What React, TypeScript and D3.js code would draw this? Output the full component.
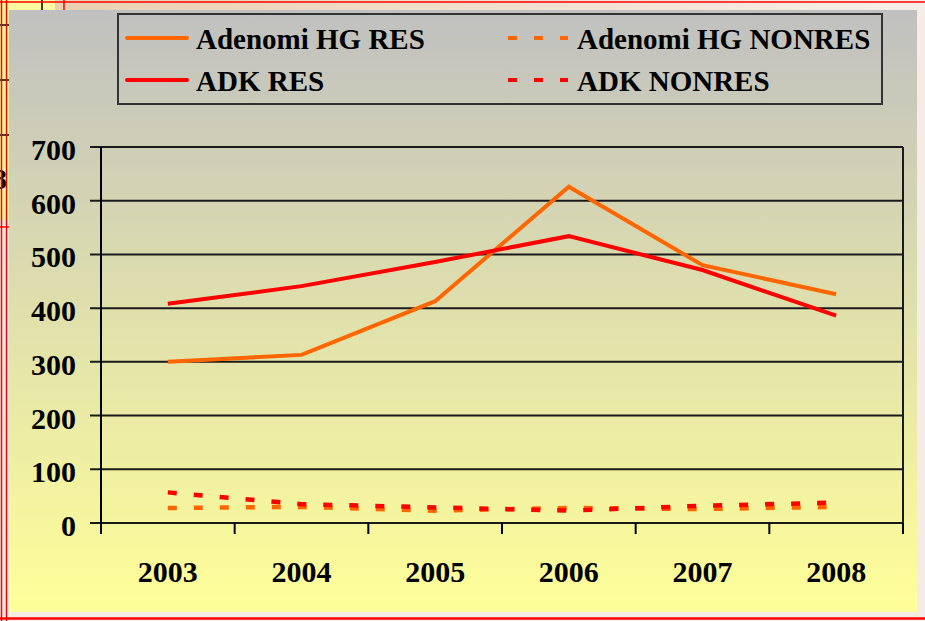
import React from "react";
import * as d3 from "d3";

const years = ["2003", "2004", "2005", "2006", "2007", "2008"];
const adenomiRes = [300, 313, 413, 626, 480, 426];
const adkRes = [408, 441, 486, 534, 471, 386];
const adenomiNonres = [28, 30, 23, 28, 26, 30];
const adkNonres = [57, 35, 29, 23, 32, 38];
const yTicks = [0, 100, 200, 300, 400, 500, 600, 700];

const series = [
  { name: "Adenomi HG RES", values: adenomiRes, color: "#ff6600", dashed: false },
  { name: "ADK RES", values: adkRes, color: "#ff0000", dashed: false },
  { name: "Adenomi HG NONRES", values: adenomiNonres, color: "#ff6600", dashed: true },
  { name: "ADK NONRES", values: adkNonres, color: "#ff0000", dashed: true },
];

const W = 925;
const H = 621;
const font = "'Liberation Serif', 'Times New Roman', serif";

export default function App() {
  const x = d3.scaleBand<string>().domain(years).range([101, 903]).padding(0);
  const y = d3.scaleLinear().domain([0, 700]).range([523, 147]);
  const line = d3
    .line<number>()
    .x((_, i) => (x(years[i]) as number) + x.bandwidth() / 2)
    .y((d) => y(d));

  const boundaries = [...years.map((yr) => x(yr) as number), 903];

  const legendItems = [
    { s: series[0], lx: 127, ly: 38 },
    { s: series[2], lx: 508, ly: 38 },
    { s: series[1], lx: 127, ly: 80 },
    { s: series[3], lx: 508, ly: 80 },
  ];

  return (
    <svg
      width={W}
      height={H}
      style={{ position: "absolute", left: 0, top: 0 }}
      xmlns="http://www.w3.org/2000/svg"
    >
      <defs>
        <linearGradient id="panel" x1="0" y1="0" x2="0" y2="1">
          <stop offset="0%" stopColor="#c0c0c0" />
          <stop offset="100%" stopColor="#ffff99" />
        </linearGradient>
        <linearGradient id="topband" x1="0" y1="0" x2="1" y2="0">
          <stop offset="0%" stopColor="#e8cfae" />
          <stop offset="100%" stopColor="#f6efe9" />
        </linearGradient>
      </defs>
      {/* slide background */}
      <rect x={0} y={0} width={W} height={H} fill="#f4ece5" />
      <rect x={0} y={0} width={W} height={10} fill="url(#topband)" />
      <rect x={0} y={0} width={55} height={220} fill="#fbf9a0" />
      {[25, 80, 135].map((yy) => (
        <line key={yy} x1={0} x2={9} y1={yy} y2={yy} stroke="#000" strokeWidth={1.5} />
      ))}
      <line x1={42} x2={42} y1={0} y2={10} stroke="#000" strokeWidth={1.5} />
      <text x={7} y={189} textAnchor="end" fontFamily={font} fontWeight="bold" fontSize={30} fill="#000">
        8
      </text>
      <line x1={0} x2={W} y1={2} y2={2} stroke="#ff0000" strokeWidth={1.5} />
      <line x1={64} x2={64} y1={0} y2={10} stroke="#ff0000" strokeWidth={1.5} />
      <line x1={1.5} x2={1.5} y1={0} y2={H} stroke="#ff0000" strokeWidth={1.5} />
      <line x1={6.5} x2={6.5} y1={0} y2={H} stroke="#ff0000" strokeWidth={1.5} />
      <line x1={0} x2={9} y1={227} y2={227} stroke="#ff0000" strokeWidth={1.5} />
      <line x1={0} x2={W} y1={618.5} y2={618.5} stroke="#ff0000" strokeWidth={2.5} />

      {/* chart panel */}
      <rect x={9} y={10} width={908} height={602} fill="url(#panel)" />

      {/* legend */}
      <rect x={118} y={14} width={764} height={90} fill="none" stroke="#333" strokeWidth={2} />
      {legendItems.map(({ s, lx, ly }) => (
        <g key={s.name}>
          <line
            x1={lx}
            x2={lx + 60}
            y1={ly}
            y2={ly}
            stroke={s.color}
            strokeWidth={4}
            strokeDasharray={s.dashed ? "9 17" : undefined}
            strokeLinecap={s.dashed ? "butt" : "round"}
          />
          <text
            x={s.dashed ? 577 : 196}
            y={ly + 11}
            fontFamily={font}
            fontWeight="bold"
            fontSize={29}
            fill="#000"
          >
            {s.name}
          </text>
        </g>
      ))}

      {/* gridlines & y axis labels */}
      {yTicks.map((t) => (
        <g key={t}>
          <line x1={90} x2={903} y1={y(t)} y2={y(t)} stroke="#1a1a1a" strokeWidth={2} />
          <text
            x={76}
            y={y(t) + 13}
            textAnchor="end"
            fontFamily={font}
            fontWeight="bold"
            fontSize={30}
            fill="#000"
          >
            {t}
          </text>
        </g>
      ))}
      <line x1={101} x2={101} y1={147} y2={523} stroke="#000" strokeWidth={2} />
      <line x1={903} x2={903} y1={147} y2={523} stroke="#1a1a1a" strokeWidth={2} />
      {boundaries.map((bx, i) => (
        <line key={i} x1={bx} x2={bx} y1={523} y2={534} stroke="#000" strokeWidth={2} />
      ))}
      {years.map((yr) => (
        <text
          key={yr}
          x={(x(yr) as number) + x.bandwidth() / 2}
          y={582}
          textAnchor="middle"
          fontFamily={font}
          fontWeight="bold"
          fontSize={30}
          fill="#000"
        >
          {yr}
        </text>
      ))}

      {/* series */}
      {[series[2], series[3], series[0], series[1]].map((s) => (
        <path
          key={s.name}
          d={line(s.values) || ""}
          fill="none"
          stroke={s.color}
          strokeWidth={s.dashed ? 4.5 : 4}
          strokeDasharray={s.dashed ? "9 17" : undefined}
          strokeLinejoin="miter"
        />
      ))}
    </svg>
  );
}
